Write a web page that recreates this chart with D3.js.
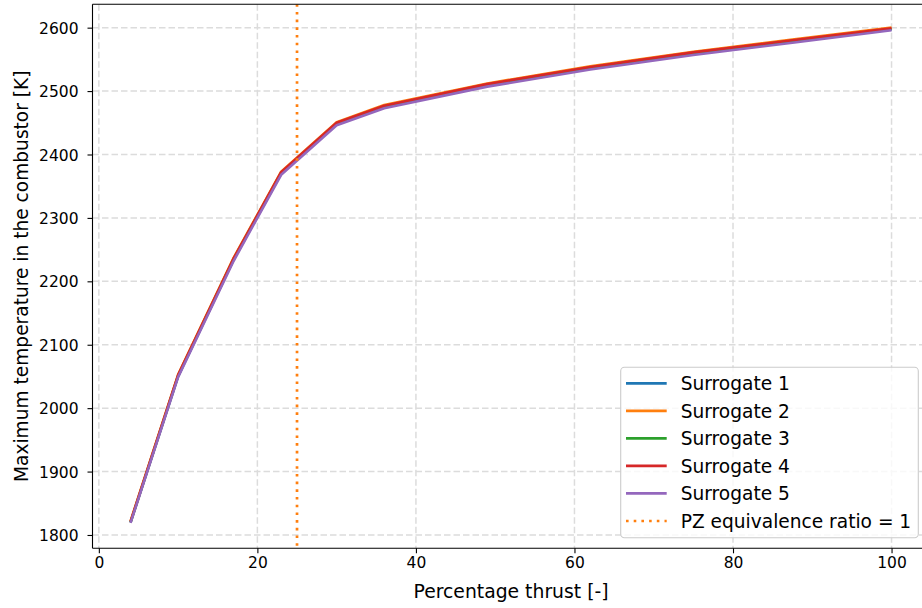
<!DOCTYPE html>
<html>
<head>
<meta charset="utf-8">
<script src="https://cdn.jsdelivr.net/npm/d3@7"></script>
<style>
  html, body { margin: 0; padding: 0; background: #fff; }
  svg { display: block; font-family: "DejaVu Sans", sans-serif; }
</style>
</head>
<body>
<svg id="chart" width="922" height="608"></svg>
<script>
// ---- data ----
const thrust = [4, 10, 17, 23, 30, 36, 49, 62, 75, 88, 100];
const surrogate1 = [1820, 2050, 2234, 2370, 2448, 2475, 2509, 2536, 2559, 2579, 2597];
const surrogate2 = [1822, 2053, 2237, 2373, 2451, 2478, 2512, 2539, 2562, 2582, 2600];
const surrogate3 = [1820, 2051, 2235, 2371, 2449, 2476, 2510, 2537, 2560, 2580, 2598];
const surrogate4 = [1821, 2052, 2236, 2372, 2450, 2477, 2511, 2538, 2561, 2581, 2599];
const surrogate5 = [1819, 2049, 2232, 2368, 2446, 2473, 2507, 2534, 2557, 2577, 2596];
const seriesNames = ["Surrogate 1", "Surrogate 2", "Surrogate 3", "Surrogate 4", "Surrogate 5"];
const seriesColors = ["#1f77b4", "#ff7f0e", "#2ca02c", "#d62728", "#9467bd"];
const pzThrust = 25;
const pzLabel = "PZ equivalence ratio = 1";
const xTicks = [0, 20, 40, 60, 80, 100];
const yTicks = [1800, 1900, 2000, 2100, 2200, 2300, 2400, 2500, 2600];
const xLabel = "Percentage thrust [-]";
const yLabel = "Maximum temperature in the combustor [K]";

const allSeries = [surrogate1, surrogate2, surrogate3, surrogate4, surrogate5];

(function () {
// ---- layout ----
const svg = d3.select("#chart");
const pL = 92.5, pR = 929.6, pT = 4.2, pB = 548.3;
const x = d3.scaleLinear().domain([-0.8, 104.8]).range([pL, pR]);
const y = d3.scaleLinear().domain([1779, 2637]).range([pB, pT]);

svg.append("defs").append("clipPath").attr("id", "plotclip")
  .append("rect").attr("x", pL).attr("y", pT).attr("width", pR - pL).attr("height", pB - pT);

// grid
const grid = svg.append("g").attr("clip-path", "url(#plotclip)");
grid.selectAll("line.gx").data(xTicks).enter().append("line")
  .attr("x1", d => x(d)).attr("x2", d => x(d)).attr("y1", pT).attr("y2", pB)
  .attr("stroke", "#dcdcdc").attr("stroke-width", 1.5).attr("stroke-dasharray", "6.5,3");
grid.selectAll("line.gy").data(yTicks).enter().append("line")
  .attr("y1", d => y(d)).attr("y2", d => y(d)).attr("x1", pL).attr("x2", pR)
  .attr("stroke", "#dcdcdc").attr("stroke-width", 1.5).attr("stroke-dasharray", "6.5,3");

// series
const plot = svg.append("g").attr("clip-path", "url(#plotclip)");
const line = d3.line().x((d, i) => x(thrust[i])).y(d => y(d));
allSeries.forEach((s, k) => {
  plot.append("path").datum(s).attr("d", line).attr("fill", "none")
    .attr("stroke", seriesColors[k]).attr("stroke-width", 2.6)
    .attr("stroke-linejoin", "round").attr("stroke-linecap", "butt");
});

// vertical dotted line
plot.append("line").attr("x1", x(pzThrust)).attr("x2", x(pzThrust))
  .attr("y1", pT).attr("y2", pB)
  .attr("stroke", "#ff7f0e").attr("stroke-width", 2.7).attr("stroke-dasharray", "2.6,5.1");

// axes
const fmt = d3.format("d");
const xAxis = d3.axisBottom(x).tickValues(xTicks).tickFormat(fmt).tickSize(5).tickPadding(4);
const gx = svg.append("g").attr("transform", `translate(0,${pB})`).call(xAxis);
gx.select(".domain").remove();
gx.selectAll("line").attr("stroke", "#000").attr("stroke-width", 1.1);
gx.selectAll("text").attr("font-size", 15.5).attr("fill", "#000")
  .attr("font-family", "DejaVu Sans").attr("dy", "0.72em");

const yAxis = d3.axisLeft(y).tickValues(yTicks).tickFormat(fmt).tickSize(5).tickPadding(9);
const gy = svg.append("g").attr("transform", `translate(${pL},0)`).call(yAxis);
gy.select(".domain").remove();
gy.selectAll("line").attr("stroke", "#000").attr("stroke-width", 1.1);
gy.selectAll("text").attr("font-size", 15.5).attr("fill", "#000")
  .attr("font-family", "DejaVu Sans").attr("dy", "0.36em");

// spines
svg.append("line").attr("x1", pL).attr("x2", pL).attr("y1", pT).attr("y2", pB)
  .attr("stroke", "#000").attr("stroke-width", 1.1);
svg.append("line").attr("x1", pL).attr("x2", pR).attr("y1", pB).attr("y2", pB)
  .attr("stroke", "#000").attr("stroke-width", 1.1);
svg.append("line").attr("x1", pL).attr("x2", pR).attr("y1", pT).attr("y2", pT)
  .attr("stroke", "#000").attr("stroke-width", 1.1);
svg.append("line").attr("x1", pR).attr("x2", pR).attr("y1", pT).attr("y2", pB)
  .attr("stroke", "#000").attr("stroke-width", 1.1);

// axis labels
svg.append("text").attr("x", (pL + pR) / 2).attr("y", 598)
  .attr("text-anchor", "middle").attr("font-size", 18.8).attr("fill", "#000").text(xLabel);
svg.append("text").attr("transform", `translate(27.5,${(pT + pB) / 2}) rotate(-90)`)
  .attr("text-anchor", "middle").attr("font-size", 18.6).attr("fill", "#000").text(yLabel);

// legend
const lg = svg.append("g");
lg.append("rect").attr("x", 620.7).attr("y", 367.3).attr("width", 297.6).attr("height", 170.4)
  .attr("rx", 3.7).attr("ry", 3.7).attr("fill", "#fff").attr("fill-opacity", 0.8)
  .attr("stroke", "#cccccc").attr("stroke-width", 1.1);
const rowY = d3.scaleLinear().domain([0, 5]).range([383.3, 521]);
const entries = seriesNames.map((n, i) => ({ name: n, color: seriesColors[i], dash: null }))
  .concat([{ name: pzLabel, color: "#ff7f0e", dash: "2.6,5.1" }]);
entries.forEach((e, i) => {
  const yy = rowY(i);
  lg.append("line").attr("x1", 626).attr("x2", 666.7).attr("y1", yy).attr("y2", yy)
    .attr("stroke", e.color).attr("stroke-width", 2.7)
    .attr("stroke-dasharray", e.dash);
  lg.append("text").attr("x", 680.7).attr("y", yy).attr("dy", "0.36em")
    .attr("font-size", 18.6).attr("fill", "#000").text(e.name);
});
})();
</script>
</body>
</html>
